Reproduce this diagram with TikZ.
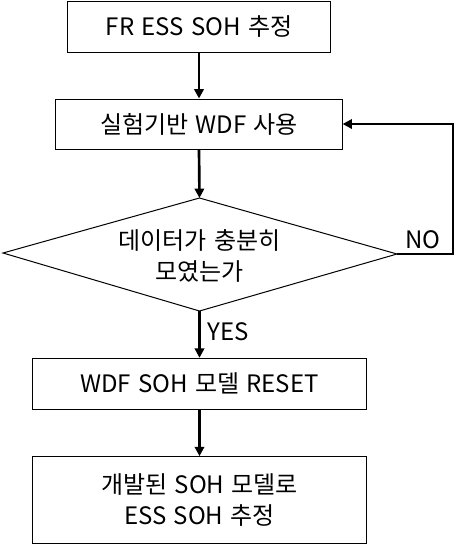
\documentclass[tikz,border=0pt]{standalone}
\usepackage{fontspec}
\setmainfont[WordSpace=1.35]{Noto Sans CJK KR}
\usetikzlibrary{arrows.meta}
\begin{document}
\begin{tikzpicture}[x=0.75pt,y=-0.75pt,
  font=\fontsize{18}{23}\selectfont,
  box/.style={draw=black,line width=0.75pt,rectangle,inner sep=0pt,align=center},
  arr/.style={line width=2pt,-{Triangle[length=7pt,width=7pt]}},
  lbl/.style={inner sep=0pt}]
\useasboundingbox (0,0) rectangle (462,544);
\node[box,minimum width=196.7pt,minimum height=38.25pt] (b1) at (199,26.5) {FR ESS SOH 추정};
\node[box,minimum width=214.7pt,minimum height=37.5pt] (b2) at (199,124) {실험기반 WDF 사용};
\coordinate (dN) at (199.5,198);
\coordinate (dS) at (199.5,311);
\coordinate (dW) at (3,253);
\coordinate (dE) at (397,254);
\draw[line width=0.75pt] (dN) -- (dE) -- (dS) -- (dW) -- cycle;
\node[lbl,align=center] (dt) at (199.5,256) {데이터가 충분히\\모였는가};
\draw[arr] (b1.south) -- (b2.north);
\draw[arr] (b2.south) -- (dN);
\node[box,minimum width=250.8pt,minimum height=38.25pt] (b3) at (199.5,383.8) {WDF SOH 모델 RESET};
\node[box,minimum width=250.8pt,minimum height=65pt] (b4) at (199.5,500) {개발된 SOH 모델로\\ESS SOH 추정};
\draw[arr] (dS) -- (b3.north);
\draw[arr] (b3.south) -- (b4.north);
\draw[arr] (dE) -- ++(56,0) |- (b2.east);
\node[lbl] (no) at (423,240) {NO};
\node[lbl] (yes) at (228,332) {YES};
\end{tikzpicture}
\end{document}
